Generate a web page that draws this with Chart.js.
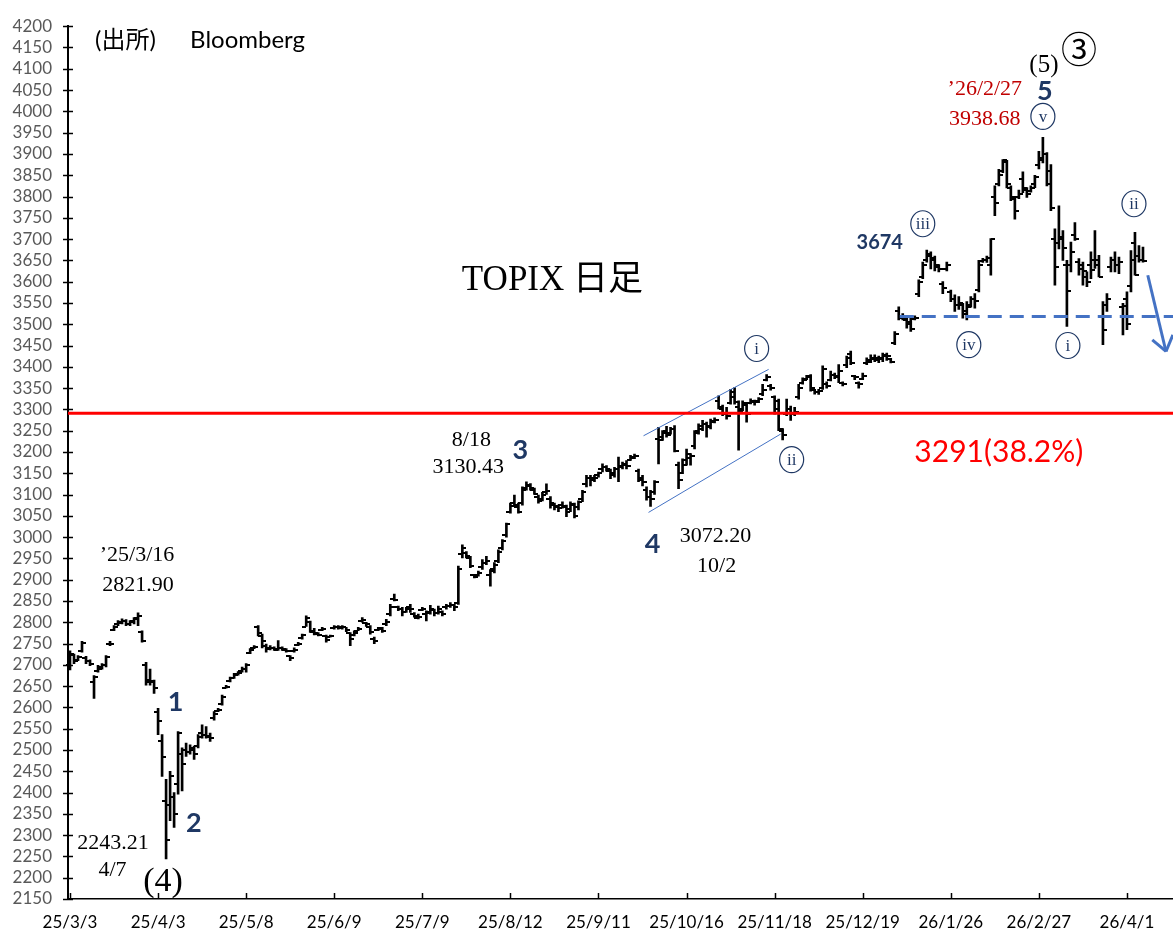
<!DOCTYPE html>
<html>
<head>
<meta charset="utf-8">
<script src="https://cdn.jsdelivr.net/npm/chart.js@4.4.1/dist/chart.umd.min.js"></script>
<style>
  html, body { margin: 0; padding: 0; background: #fff; }
  canvas { display: block; }
</style>
</head>
<body>
<canvas id="topixChart" width="1173" height="936"></canvas>
<script>
// x axis: one slot per trading day, a label every 22 slots
const tickLabels = ['25/3/3', '25/4/3', '25/5/8', '25/6/9', '25/7/9', '25/8/12', '25/9/11',
    '25/10/16', '25/11/18', '25/12/19', '26/1/26', '26/2/27', '26/4/1'];
const tickEvery = 22;
const slotCount = 276;

// TOPIX daily bars (index 0 = 25/3/3)
const opens = [
    2700, 2722, 2712, 2732, 2715, 2708, 2660, 2685, 2694, 2700,
    2748, 2782, 2795, 2798, 2802, 2796, 2802, 2810, 2778, 2700,
    2665, 2660, 2590, 2520, 2380, 2370, 2390, 2420, 2490, 2500,
    2495, 2500, 2510, 2540, 2535, 2530, 2575, 2592, 2608, 2646,
    2662, 2670, 2678, 2685, 2690, 2728, 2740, 2790, 2768, 2745,
    2738, 2740, 2736, 2740, 2736, 2720, 2732, 2746, 2762, 2790,
    2800, 2778, 2772, 2782, 2768, 2765, 2786, 2790, 2786, 2788,
    2775, 2770, 2780, 2802, 2798, 2790, 2760, 2782, 2786, 2795,
    2820, 2855, 2835, 2832, 2825, 2835, 2820, 2810, 2828, 2820,
    2825, 2828, 2822, 2825, 2835, 2838, 2840, 2845, 2960, 2962,
    2950, 2910, 2910, 2930, 2940, 2910, 2925, 2945, 2975, 3005,
    3060, 3080, 3070, 3080, 3115, 3120, 3110, 3095, 3090, 3105,
    3090, 3075, 3070, 3075, 3070, 3065, 3075, 3070, 3090, 3125,
    3138, 3140, 3145, 3160, 3165, 3155, 3150, 3160, 3168, 3172,
    3182, 3188, 3155, 3135, 3110, 3095, 3105, 3230, 3235, 3250,
    3245, 3255, 3170, 3150, 3180, 3185, 3215, 3250, 3260, 3265,
    3258, 3272, 3320, 3300, 3290, 3315, 3340, 3305, 3300, 3310,
    3315, 3318, 3320, 3335, 3370, 3355, 3330, 3320, 3250, 3290,
    3300, 3290, 3330, 3362, 3372, 3378, 3345, 3340, 3350, 3360,
    3370, 3380, 3375, 3362, 3405, 3430, 3378, 3362, 3372, 3410,
    3412, 3418, 3415, 3420, 3425, 3418, 3455, 3530, 3515, 3510,
    3505, 3512, 3570, 3610, 3650, 3665, 3655, 3635, 3595, 3630,
    3575, 3560, 3545, 3545, 3525, 3545, 3560, 3580, 3648, 3650,
    3640, 3800, 3830, 3860, 3880, 3820, 3795, 3800, 3840, 3815,
    3812, 3830, 3875, 3890, 3900, 3860, 3700, 3690, 3700, 3640,
    3640, 3710, 3645, 3630, 3610, 3640, 3650, 3650, 3520, 3545,
    3635, 3650, 3640, 3540, 3560, 3590, 3690, 3660, 3650
];
const highs = [
    2733, 2725, 2722, 2755, 2720, 2712, 2675, 2699, 2703, 2722,
    2755, 2792, 2804, 2808, 2806, 2804, 2811, 2822, 2780, 2706,
    2690, 2664, 2598, 2536, 2431, 2450, 2400, 2543, 2505, 2516,
    2512, 2509, 2536, 2559, 2555, 2540, 2590, 2598, 2629, 2652,
    2671, 2680, 2684, 2695, 2703, 2738, 2745, 2792, 2772, 2749,
    2745, 2742, 2757, 2742, 2738, 2722, 2740, 2753, 2772, 2815,
    2803, 2786, 2776, 2788, 2770, 2770, 2792, 2792, 2792, 2788,
    2776, 2780, 2788, 2811, 2800, 2792, 2765, 2788, 2788, 2807,
    2842, 2866, 2838, 2835, 2835, 2842, 2823, 2819, 2835, 2827,
    2840, 2831, 2838, 2827, 2842, 2846, 2842, 2932, 2982, 2966,
    2955, 2912, 2920, 2947, 2955, 2924, 2940, 2970, 2994, 3033,
    3080, 3099, 3080, 3118, 3130, 3126, 3115, 3099, 3105, 3125,
    3095, 3080, 3075, 3083, 3075, 3083, 3080, 3085, 3110, 3145,
    3145, 3145, 3153, 3172, 3168, 3160, 3164, 3188, 3176, 3180,
    3192, 3195, 3160, 3145, 3118, 3110, 3133, 3258, 3250, 3260,
    3258, 3262, 3176, 3184, 3207, 3196, 3250, 3266, 3274, 3270,
    3277, 3280, 3332, 3310, 3305, 3347, 3351, 3320, 3320, 3316,
    3325, 3322, 3328, 3359, 3382, 3359, 3332, 3324, 3255, 3324,
    3308, 3305, 3359, 3374, 3380, 3382, 3347, 3347, 3402, 3365,
    3390, 3385, 3405, 3365, 3425, 3437, 3380, 3365, 3385, 3421,
    3428, 3428, 3425, 3432, 3432, 3420, 3483, 3541, 3525, 3518,
    3518, 3520, 3604, 3646, 3674, 3670, 3660, 3640, 3600, 3646,
    3580, 3569, 3565, 3549, 3553, 3565, 3572, 3650, 3655, 3660,
    3701, 3825, 3864, 3887, 3885, 3825, 3800, 3815, 3858, 3821,
    3825, 3850, 3906, 3939, 3903, 3875, 3724, 3778, 3720, 3650,
    3693, 3739, 3654, 3646, 3623, 3670, 3720, 3662, 3553, 3572,
    3658, 3670, 3658, 3549, 3576, 3673, 3716, 3685, 3681
];
const lows = [
    2688, 2703, 2710, 2730, 2703, 2698, 2621, 2683, 2690, 2695,
    2745, 2780, 2792, 2796, 2792, 2792, 2796, 2792, 2753, 2652,
    2652, 2633, 2536, 2438, 2244, 2334, 2318, 2396, 2404, 2485,
    2490, 2478, 2505, 2528, 2528, 2520, 2570, 2590, 2605, 2645,
    2660, 2668, 2676, 2683, 2683, 2726, 2738, 2768, 2740, 2730,
    2735, 2734, 2734, 2734, 2730, 2710, 2730, 2745, 2760, 2790,
    2776, 2770, 2768, 2780, 2753, 2765, 2784, 2784, 2784, 2778,
    2745, 2768, 2780, 2800, 2790, 2772, 2750, 2780, 2776, 2792,
    2815, 2850, 2827, 2815, 2823, 2823, 2812, 2808, 2827, 2803,
    2819, 2815, 2819, 2815, 2831, 2835, 2827, 2842, 2951, 2951,
    2928, 2904, 2908, 2924, 2935, 2885, 2916, 2940, 2970, 3000,
    3056, 3072, 3056, 3075, 3110, 3110, 3100, 3080, 3085, 3100,
    3068, 3064, 3060, 3068, 3048, 3060, 3045, 3064, 3083, 3118,
    3120, 3130, 3141, 3153, 3155, 3137, 3141, 3130, 3160, 3160,
    3180, 3184, 3130, 3120, 3087, 3072, 3100, 3172, 3227, 3235,
    3242, 3200, 3114, 3149, 3169, 3169, 3207, 3242, 3250, 3235,
    3254, 3268, 3301, 3285, 3277, 3312, 3312, 3204, 3297, 3270,
    3313, 3310, 3316, 3332, 3367, 3345, 3289, 3250, 3228, 3285,
    3274, 3285, 3324, 3359, 3370, 3343, 3336, 3335, 3347, 3350,
    3367, 3372, 3363, 3355, 3398, 3405, 3370, 3350, 3370, 3405,
    3410, 3412, 3410, 3412, 3415, 3409, 3452, 3510, 3510, 3491,
    3483, 3510, 3565, 3607, 3646, 3630, 3625, 3623, 3572, 3625,
    3553, 3530, 3535, 3514, 3510, 3540, 3538, 3576, 3645, 3645,
    3615, 3755, 3825, 3856, 3820, 3790, 3747, 3795, 3809, 3798,
    3810, 3821, 3865, 3879, 3825, 3767, 3592, 3677, 3650, 3495,
    3623, 3697, 3615, 3592, 3588, 3607, 3631, 3611, 3452, 3530,
    3623, 3623, 3619, 3475, 3487, 3576, 3615, 3646, 3646
];
const closes = [
    2725, 2708, 2718, 2752, 2710, 2702, 2672, 2690, 2700, 2718,
    2750, 2790, 2800, 2802, 2796, 2800, 2808, 2815, 2757, 2660,
    2662, 2645, 2569, 2483, 2289, 2440, 2349, 2540, 2467, 2495,
    2505, 2490, 2530, 2535, 2532, 2528, 2585, 2594, 2625, 2648,
    2668, 2675, 2680, 2690, 2700, 2735, 2742, 2775, 2755, 2740,
    2740, 2738, 2740, 2738, 2732, 2716, 2736, 2750, 2770, 2810,
    2780, 2775, 2770, 2785, 2758, 2768, 2790, 2788, 2790, 2782,
    2760, 2775, 2785, 2805, 2795, 2778, 2755, 2785, 2780, 2800,
    2835, 2852, 2830, 2825, 2830, 2830, 2815, 2812, 2830, 2822,
    2830, 2822, 2830, 2820, 2838, 2840, 2835, 2925, 2975, 2955,
    2932, 2906, 2915, 2940, 2945, 2920, 2935, 2965, 2990, 3030,
    3072, 3075, 3060, 3110, 3122, 3115, 3102, 3085, 3100, 3108,
    3080, 3072, 3068, 3072, 3058, 3078, 3050, 3082, 3105, 3140,
    3135, 3140, 3150, 3165, 3160, 3145, 3160, 3165, 3170, 3168,
    3185, 3190, 3140, 3130, 3095, 3090, 3130, 3228, 3245, 3240,
    3255, 3202, 3135, 3170, 3195, 3190, 3245, 3255, 3265, 3260,
    3270, 3275, 3305, 3290, 3285, 3330, 3318, 3297, 3315, 3290,
    3320, 3318, 3325, 3345, 3375, 3350, 3300, 3255, 3240, 3300,
    3290, 3295, 3350, 3370, 3375, 3350, 3340, 3343, 3395, 3355,
    3380, 3378, 3390, 3360, 3420, 3410, 3375, 3360, 3378, 3415,
    3420, 3420, 3418, 3428, 3425, 3412, 3478, 3520, 3515, 3500,
    3488, 3515, 3600, 3640, 3660, 3650, 3640, 3630, 3585, 3640,
    3560, 3545, 3550, 3530, 3540, 3560, 3555, 3640, 3650, 3655,
    3700, 3785, 3850, 3885, 3830, 3800, 3765, 3805, 3820, 3805,
    3820, 3845, 3885, 3900, 3830, 3774, 3635, 3704, 3680, 3578,
    3670, 3700, 3640, 3625, 3600, 3628, 3640, 3612, 3487, 3560,
    3650, 3640, 3645, 3543, 3500, 3650, 3615, 3650, 3648
];

const fibLevel = 3291;      // red line, 3291(38.2%)
const supportLevel = 3518;  // blue dashed neckline

const NAVY = '#1F3864';
const SERIF = "'Liberation Serif', 'Noto Sans CJK JP', serif";

// annotations placed in data units (slot index, price)
const notes = [
    { text: '(出所)', i: 6.25, v: 4167, font: "24px Lato, 'Noto Sans CJK JP'", color: '#000', align: 'left' },
    { text: 'Bloomberg', i: 30, v: 4167, font: '24px Lato', color: '#000', align: 'left' },
    { text: 'TOPIX 日足', i: 120.5, v: 3603, font: '35px ' + SERIF, color: '#000' },
    { text: '\u201925/3/16', i: 16.75, v: 2958, font: '22px ' + SERIF, color: '#000' },
    { text: '2821.90', i: 17, v: 2888, font: '22px ' + SERIF, color: '#000' },
    { text: '2243.21', i: 10.75, v: 2281, font: '22px ' + SERIF, color: '#000' },
    { text: '4/7', i: 10.6, v: 2217, font: '22px ' + SERIF, color: '#000' },
    { text: '(4)', i: 23.25, v: 2189, font: '34px ' + SERIF, color: '#000' },
    { text: '8/18', i: 100.25, v: 3228, font: '22px ' + SERIF, color: '#000' },
    { text: '3130.43', i: 99.5, v: 3165, font: '22px ' + SERIF, color: '#000' },
    { text: '3072.20', i: 161.25, v: 3002, font: '22px ' + SERIF, color: '#000' },
    { text: '10/2', i: 161.5, v: 2932, font: '22px ' + SERIF, color: '#000' },
    { text: '\u201926/2/27', i: 228.5, v: 4053, font: '22px ' + SERIF, color: '#C00000' },
    { text: '3938.68', i: 228.5, v: 3981, font: '22px ' + SERIF, color: '#C00000' },
    { text: '(5)', i: 243.25, v: 4107, font: '25px ' + SERIF, color: '#000' },
    { text: '③', i: 252, v: 4146, font: "36px 'Noto Sans CJK JP'", color: '#000' },
    { text: '1', i: 26.4, v: 2611, font: 'bold 27px Lato', color: NAVY },
    { text: '2', i: 30.9, v: 2328, font: 'bold 27px Lato', color: NAVY },
    { text: '3', i: 112.5, v: 3203, font: 'bold 27px Lato', color: NAVY },
    { text: '4', i: 145.5, v: 2984, font: 'bold 27px Lato', color: NAVY },
    { text: '5', i: 243.5, v: 4048, font: 'bold 27px Lato', color: NAVY },
    { text: '3674', i: 202.25, v: 3692, font: 'bold 20px Lato', color: NAVY },
    { text: '3291(38.2%)', i: 232, v: 3198, font: '30px Lato', color: '#FF0000' }
];
const circledWaves = [
    { text: 'i', i: 171.5, v: 3443 },
    { text: 'ii', i: 180.25, v: 3182 },
    { text: 'iii', i: 213, v: 3736 },
    { text: 'iv', i: 224.5, v: 3452 },
    { text: 'v', i: 243, v: 3988 },
    { text: 'i', i: 249.25, v: 3450 },
    { text: 'ii', i: 265.75, v: 3783 }
];
// trend channel around wave (i)/(ii), and the down arrow
const channelUpper = [[143.25, 3238], [174.5, 3394]];
const channelLower = [[144.5, 3058], [177.5, 3242]];
const arrowPath = [[269.2, 3615], [273.75, 3436]];
const dashStart = 207.25;

const categories = [];
for (let i = 0; i < slotCount; i++) {
    categories.push(i % tickEvery === 0 ? (tickLabels[i / tickEvery] || '') : '');
}
const ranges = lows.map((low, i) => [low, highs[i]]);

// open tick on the left, close tick on the right of each bar
const ohlcTicks = {
    id: 'ohlcTicks',
    afterDatasetsDraw(chart) {
        const ctx = chart.ctx;
        const y = chart.scales.y;
        const meta = chart.getDatasetMeta(0);
        ctx.save();
        ctx.fillStyle = '#000';
        meta.data.forEach((bar, i) => {
            ctx.fillRect(Math.round(bar.x) - 4, Math.round(y.getPixelForValue(opens[i])) - 1, 4, 2);
            ctx.fillRect(Math.round(bar.x), Math.round(y.getPixelForValue(closes[i])) - 1, 4, 2);
        });
        ctx.restore();
    }
};

const waveNotes = {
    id: 'waveNotes',
    afterDraw(chart) {
        const ctx = chart.ctx;
        const x = chart.scales.x;
        const y = chart.scales.y;
        const area = chart.chartArea;
        const px = i => x.getPixelForValue(i);
        const py = v => y.getPixelForValue(v);
        const line = (x1, y1, x2, y2) => {
            ctx.beginPath();
            ctx.moveTo(x1, y1);
            ctx.lineTo(x2, y2);
            ctx.stroke();
        };
        ctx.save();

        // axis tick marks
        ctx.strokeStyle = '#000';
        ctx.lineWidth = 1.5;
        y.ticks.forEach((t, k) => {
            const ty = Math.round(y.getPixelForTick(k)) + 0.5;
            line(area.left - 5, ty, area.left + 5, ty);
        });
        x.ticks.forEach((t, k) => {
            if (t.label) {
                const tx = Math.round(x.getPixelForTick(k)) + 0.5;
                line(tx, area.bottom, tx, area.bottom - 6);
            }
        });

        // channel
        ctx.strokeStyle = '#4472C4';
        ctx.lineWidth = 1;
        [channelUpper, channelLower].forEach(c => line(px(c[0][0]), py(c[0][1]), px(c[1][0]), py(c[1][1])));

        // 38.2% retracement
        ctx.strokeStyle = '#FF0000';
        ctx.lineWidth = 3;
        line(area.left, py(fibLevel), area.right, py(fibLevel));

        // neckline
        ctx.strokeStyle = '#4472C4';
        ctx.lineWidth = 3;
        ctx.setLineDash([14, 8]);
        line(px(dashStart), py(supportLevel), area.right, py(supportLevel));
        ctx.setLineDash([]);

        // arrow
        const ax1 = px(arrowPath[0][0]), ay1 = py(arrowPath[0][1]);
        const ax2 = px(arrowPath[1][0]), ay2 = py(arrowPath[1][1]);
        line(ax1, ay1, ax2, ay2);
        const ang = Math.atan2(ay2 - ay1, ax2 - ax1);
        [Math.PI * 0.8, -Math.PI * 0.8].forEach(d => {
            line(ax2, ay2, ax2 + 18 * Math.cos(ang + d), ay2 + 18 * Math.sin(ang + d));
        });

        // circled wave numerals
        circledWaves.forEach(c => {
            const cx = px(c.i), cy = py(c.v);
            ctx.strokeStyle = NAVY;
            ctx.lineWidth = 1.2;
            ctx.beginPath();
            ctx.ellipse(cx, cy, 12, 13, 0, 0, Math.PI * 2);
            ctx.stroke();
            ctx.fillStyle = NAVY;
            ctx.font = '17px ' + SERIF;
            ctx.textAlign = 'center';
            ctx.textBaseline = 'middle';
            ctx.fillText(c.text, cx, cy + 1);
        });

        // text notes
        notes.forEach(n => {
            ctx.font = n.font;
            ctx.fillStyle = n.color;
            ctx.textAlign = n.align || 'center';
            ctx.textBaseline = 'middle';
            ctx.fillText(n.text, px(n.i), py(n.v));
        });
        ctx.restore();
    }
};

new Chart(document.getElementById('topixChart'), {
    type: 'bar',
    data: {
        labels: categories,
        datasets: [{
            label: 'TOPIX',
            data: ranges,
            backgroundColor: '#000',
            borderWidth: 0,
            barThickness: 2,
            grouped: false
        }]
    },
    options: {
        responsive: false,
        animation: false,
        devicePixelRatio: 1,
        layout: { padding: { top: 19, right: 0, bottom: 0, left: 0 } },
        plugins: {
            legend: { display: false },
            tooltip: { enabled: false }
        },
        scales: {
            x: {
                offset: true,
                grid: { display: false, drawTicks: false },
                border: { display: true, color: '#000', width: 1.5 },
                ticks: {
                    autoSkip: false,
                    maxRotation: 0,
                    minRotation: 0,
                    padding: 13,
                    color: '#000',
                    font: { family: 'Lato', size: 17 },
                    callback: function(value) {
                        const label = this.getLabelForValue(value);
                        return label === '' ? null : label;
                    }
                },
                afterFit: scale => { scale.height = 37; }
            },
            y: {
                min: 2150,
                max: 4200,
                grid: { display: false, drawTicks: false },
                border: { display: true, color: '#000', width: 2 },
                ticks: {
                    stepSize: 50,
                    autoSkip: false,
                    padding: 16,
                    color: '#595959',
                    font: { family: 'Lato', size: 17 },
                    callback: value => String(value)
                },
                afterFit: scale => { scale.width = 68; }
            }
        }
    },
    plugins: [ohlcTicks, waveNotes]
});
</script>
</body>
</html>
